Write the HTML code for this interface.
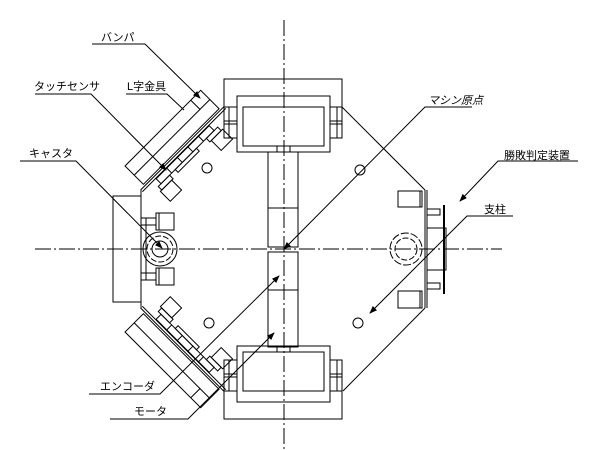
<!DOCTYPE html>
<html><head><meta charset="utf-8"><style>
html,body{margin:0;padding:0;background:#fff;}
svg{display:block;}
text{font-family:"Liberation Sans","Noto Sans CJK JP",sans-serif;font-size:11px;fill:#000;}
</style></head><body>
<svg width="608" height="450" viewBox="0 0 608 450" xmlns="http://www.w3.org/2000/svg">
<defs>
<marker id="ar" markerWidth="8" markerHeight="6" refX="7" refY="3" orient="auto" markerUnits="userSpaceOnUse">
<path d="M0,0 L8,3 L0,6 z" fill="#000"/></marker>
<g id="wheel" fill="none" stroke="#000" stroke-width="1" shape-rendering="crispEdges">
<polyline points="224,138 224,79 342,79 342,138"/>
<rect x="237" y="96" width="93" height="56"/>
<rect x="243" y="107" width="81" height="39"/>
<rect x="224" y="107" width="13" height="31"/>
<line x1="229" y1="107" x2="229" y2="138"/>
<line x1="224" y1="121" x2="237" y2="121"/><line x1="224" y1="124" x2="237" y2="124"/>
<rect x="330" y="107" width="12" height="31"/>
<line x1="337" y1="107" x2="337" y2="138"/>
<line x1="330" y1="121" x2="342" y2="121"/><line x1="330" y1="124" x2="342" y2="124"/>
<rect x="277" y="146" width="13" height="6"/>
</g>
<g id="bump" fill="none" stroke="#000" stroke-width="1" transform="translate(183,149) rotate(-45)">
<rect x="-53" y="-29" width="107" height="26"/>
<line x1="-53" y1="-16" x2="54" y2="-16"/>
<line x1="40" y1="-29" x2="40" y2="-16"/>
<line x1="-59" y1="-1" x2="59" y2="-1"/><line x1="-59" y1="1.5" x2="59" y2="1.5"/>
<rect x="-40" y="2" width="75" height="7"/>
<line x1="-25" y1="2" x2="-25" y2="9"/><line x1="-10" y1="2" x2="-10" y2="9"/><line x1="5" y1="2" x2="5" y2="9"/><line x1="20" y1="2" x2="20" y2="9"/>
<rect x="-44" y="9" width="16" height="5"/>
<rect x="-46" y="14" width="16" height="14"/>
<rect x="24" y="9" width="16" height="5"/>
<rect x="26" y="14" width="16" height="14"/>
<rect x="-20" y="9" width="30" height="4"/>
</g>
</defs>

<line x1="284" y1="20" x2="284" y2="450" stroke="#000" stroke-width="1" stroke-dasharray="16,3,2,3" shape-rendering="crispEdges"/>
<line x1="35" y1="249" x2="502" y2="249" stroke="#000" stroke-width="1" stroke-dasharray="16,3,2,3" shape-rendering="crispEdges"/>

<use href="#wheel"/>
<use href="#wheel" transform="translate(0,498) scale(1,-1)"/>
<use href="#bump"/>
<use href="#bump" transform="translate(0,498) scale(1,-1)"/>

<g fill="none" stroke="#000" stroke-width="1">
<g shape-rendering="crispEdges">
<line x1="141" y1="190" x2="141" y2="308"/>
<line x1="425" y1="190" x2="425" y2="308"/>
<line x1="427" y1="190" x2="427" y2="308"/>
<rect x="268" y="152" width="30" height="95"/>
<line x1="268" y1="208" x2="298" y2="208"/>
<rect x="268" y="252" width="30" height="95"/>
<line x1="268" y1="290" x2="298" y2="290"/>
<rect x="113" y="196" width="28" height="106"/>
<rect x="156" y="213" width="18" height="17"/><line x1="159" y1="213" x2="159" y2="230"/>
<rect x="156" y="268" width="18" height="17"/><line x1="159" y1="268" x2="159" y2="285"/>
<line x1="141" y1="218" x2="156" y2="218"/><line x1="141" y1="225" x2="156" y2="225"/>
<line x1="141" y1="273" x2="156" y2="273"/><line x1="141" y1="280" x2="156" y2="280"/>
<line x1="146" y1="218" x2="146" y2="280"/>
<rect x="398" y="191" width="24" height="16"/><line x1="420" y1="191" x2="420" y2="207"/>
<rect x="398" y="291" width="24" height="17"/><line x1="420" y1="291" x2="420" y2="308"/>
<rect x="427" y="228" width="19" height="42"/>
<rect x="427" y="209" width="13" height="6"/>
<rect x="427" y="283" width="13" height="6"/>
<line x1="444" y1="205" x2="444" y2="294" stroke-width="2"/>
</g>
<line x1="342" y1="107" x2="425" y2="190"/>
<line x1="425" y1="308" x2="343" y2="391"/>
<circle cx="160" cy="249" r="17"/>
<circle cx="160" cy="249" r="13" stroke-dasharray="6,2"/>
<circle cx="160" cy="249" r="8"/>
<circle cx="406" cy="249" r="16" stroke-dasharray="8,2"/>
<circle cx="406" cy="249" r="11" stroke-dasharray="6,2"/>
<circle cx="207" cy="168" r="5"/>
<circle cx="360" cy="170" r="5"/>
<circle cx="209" cy="323" r="5"/>
<circle cx="358" cy="323" r="5"/>
<polyline points="92,44 145,44 200,98" marker-end="url(#ar)"/>
<polyline points="35,94 91,94 166,170" marker-end="url(#ar)"/>
<polyline points="126,94 167,94 184,110"/>
<polyline points="20,161 76,161 162,248" marker-end="url(#ar)"/>
<polyline points="472,107 425,107 284,249" marker-end="url(#ar)"/>
<polyline points="578,161 498,161 460,201" marker-end="url(#ar)"/>
<polyline points="513,216 467,216 370,313" marker-end="url(#ar)"/>
<polyline points="89,394 160,394 279,276" marker-end="url(#ar)"/>
<polyline points="110,419 188,419 274,333" marker-end="url(#ar)"/>
</g>
<g>
<text x="101" y="41">バンパ</text>
<text x="34" y="90">タッチセンサ</text>
<text x="127" y="90">L字金具</text>
<text x="29" y="157">キャスタ</text>
<text x="428" y="104" font-style="italic">マシン原点</text>
<text x="504" y="159" font-size="10">勝敗判定装置</text>
<text x="484" y="213">支柱</text>
<text x="100" y="390">エンコーダ</text>
<text x="134" y="415">モータ</text>
</g>
</svg>
</body></html>
